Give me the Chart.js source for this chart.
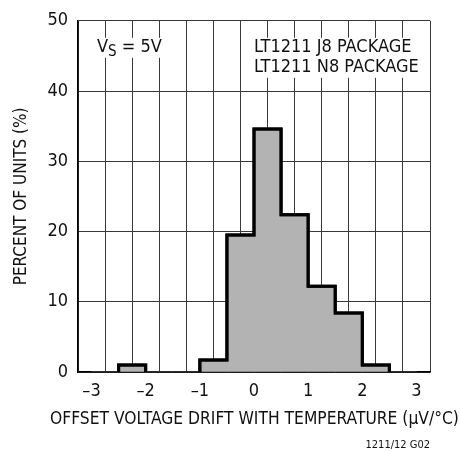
<!DOCTYPE html>
<html>
<head>
<meta charset="utf-8">
<script src="https://cdn.jsdelivr.net/npm/chart.js@4.4.1/dist/chart.umd.min.js"></script>
<style>
  html, body { margin: 0; padding: 0; background: #fff; }
  #wrap { width: 460px; height: 451px; }
</style>
</head>
<body>
<div id="wrap"><canvas id="histChart" width="460" height="451"></canvas></div>
<script>
// **********************************************
// Data

// left edge of each 0.5 µV/°C bin
const binStarts = [-3, -2.5, -2, -1.5, -1, -0.5, 0, 0.5, 1, 1.5, 2, 2.5];
const binWidth = 0.5;
// percent of units in each bin
const percentUnits = [0, 1.0, 0, 0, 1.7, 19.5, 34.6, 22.4, 12.2, 8.4, 1.0, 0];

const xTickValues = [-3, -2, -1, 0, 1, 2, 3];
const yTickValues = [0, 10, 20, 30, 40, 50];

const xTitle = 'OFFSET VOLTAGE DRIFT WITH TEMPERATURE (\u03BCV/\u00B0C)';
const yTitle = 'PERCENT OF UNITS (%)';
const noteLines = ['LT1211 J8 PACKAGE', 'LT1211 N8 PACKAGE'];
const footNote = '1211/12 G02';

const FONT = "'Liberation Sans Narrow', 'DejaVu Sans Condensed', 'Arial Narrow', sans-serif";


// **********************************************
// Build datasets from the arrays

// bars centred in their bins
function barPoints() {
    return binStarts.map((start, i) => ({ x: start + binWidth / 2, y: percentUnits[i] }));
}

// thick step outline round every run of non-empty bins
function outlinePoints() {
    let pts = [];
    let inRun = false;
    for (let i = 0; i < binStarts.length; i++) {
        let v = percentUnits[i];
        let left = binStarts[i];
        let right = left + binWidth;
        if (v > 0) {
            if (!inRun) {
                pts.push({ x: left, y: 0 });
                inRun = true;
            }
            pts.push({ x: left, y: v });
            pts.push({ x: right, y: v });
            let next = percentUnits[i + 1];
            if (!(next > 0)) {
                pts.push({ x: right, y: 0 });
                pts.push({ x: right, y: null });
                inRun = false;
            }
        }
    }
    return pts;
}


// **********************************************
// Plugins

// redraw outline on top of the grid (grid sits above the fill)
const outlineOnTop = {
    id: 'outlineOnTop',
    afterDraw(chart) {
        let meta = chart.getDatasetMeta(1);
        let ctx = chart.ctx;
        ctx.save();
        meta.dataset.draw(ctx, chart.chartArea);
        ctx.restore();
    }
};

// labels inside the plot, x title (wider than the plot) and the figure number
const notes = {
    id: 'notes',
    afterDraw(chart) {
        let ctx = chart.ctx;
        let area = chart.chartArea;
        ctx.save();
        ctx.textBaseline = 'alphabetic';
        ctx.textAlign = 'left';

        // V_S = 5V
        let vx = area.left + 19;
        let vy = area.top + 31;
        ctx.font = '18px ' + FONT;
        let wV = ctx.measureText('V').width;
        ctx.font = '15px ' + FONT;
        let wS = ctx.measureText('S').width;
        ctx.font = '18px ' + FONT;
        let wRest = ctx.measureText(' = 5V').width;
        ctx.fillStyle = '#fff';
        ctx.fillRect(vx - 2, vy - 14, wV + wS + wRest + 4, 20);
        ctx.fillStyle = '#111';
        ctx.fillText('V', vx, vy);
        ctx.font = '15px ' + FONT;
        ctx.fillText('S', vx + wV, vy + 4);
        ctx.font = '18px ' + FONT;
        ctx.fillText(' = 5V', vx + wV + wS, vy);

        // package notes, left aligned on the 0 gridline
        let px = chart.scales.x.getPixelForValue(0);
        ctx.font = '18px ' + FONT;
        let wMax = Math.max(...noteLines.map(t => ctx.measureText(t).width));
        ctx.fillStyle = '#fff';
        ctx.fillRect(px - 1, area.top + 17, wMax + 3, 40);
        ctx.fillStyle = '#111';
        noteLines.forEach((t, i) => ctx.fillText(t, px, area.top + 31 + i * 20));

        // x axis title
        ctx.font = '17.3px ' + FONT;
        ctx.textAlign = 'left';
        ctx.fillText(xTitle, area.left - 28, area.bottom + 52);

        // figure number
        ctx.font = '11px ' + FONT;
        ctx.textAlign = 'right';
        ctx.fillText(footNote, area.right, chart.height - 3);
        ctx.restore();
    }
};


// **********************************************
// Chart

let ctx = document.getElementById('histChart').getContext('2d');

let histChart = new Chart(ctx, {
    data: {
        datasets: [
            {
                type: 'bar',
                data: barPoints(),
                backgroundColor: '#b3b3b3',
                borderWidth: 0,
                barPercentage: 1,
                categoryPercentage: 1,
                order: 2
            },
            {
                type: 'line',
                data: outlinePoints(),
                borderColor: '#000',
                borderWidth: 3,
                borderJoinStyle: 'miter',
                borderCapStyle: 'butt',
                pointRadius: 0,
                tension: 0,
                spanGaps: false,
                fill: false,
                order: 1
            }
        ]
    },
    options: {
        responsive: false,
        animation: false,
        events: [],
        layout: {
            padding: { left: 0, top: 20, right: 30, bottom: 20 }
        },
        plugins: {
            legend: { display: false },
            tooltip: { enabled: false }
        },
        scales: {
            x: {
                type: 'linear',
                min: -3,
                max: 3,
                z: 1,
                afterFit: (scale) => { scale.height = 59; },
                afterBuildTicks: (scale) => {
                    let t = [];
                    for (let v = -3; v <= 3.001; v += 0.5) t.push({ value: Math.round(v * 2) / 2 });
                    scale.ticks = t;
                },
                grid: {
                    color: '#3a3a3a',
                    lineWidth: 1,
                    drawTicks: false
                },
                border: { color: '#000', width: 1.5 },
                ticks: {
                    padding: 9,
                    color: '#111',
                    font: { family: FONT, size: 18 },
                    maxRotation: 0,
                    autoSkip: false,
                    callback: (v) => xTickValues.includes(v) ? (v < 0 ? '\u2013' + Math.abs(v) : String(v)) : ''
                },
                title: { display: false }
            },
            y: {
                min: 0,
                max: 50,
                z: 1,
                afterFit: (scale) => { scale.width = 78; },
                afterBuildTicks: (scale) => {
                    scale.ticks = yTickValues.map(v => ({ value: v }));
                },
                grid: {
                    color: '#3a3a3a',
                    lineWidth: 1,
                    drawTicks: false
                },
                border: { color: '#000', width: 1.5 },
                ticks: {
                    padding: 10,
                    color: '#111',
                    font: { family: FONT, size: 18 }
                },
                title: {
                    display: true,
                    text: yTitle,
                    color: '#111',
                    font: { family: FONT, size: 17 },
                    padding: { top: 11, bottom: 0 }
                }
            }
        }
    },
    plugins: [outlineOnTop, notes]
});
</script>
</body>
</html>
